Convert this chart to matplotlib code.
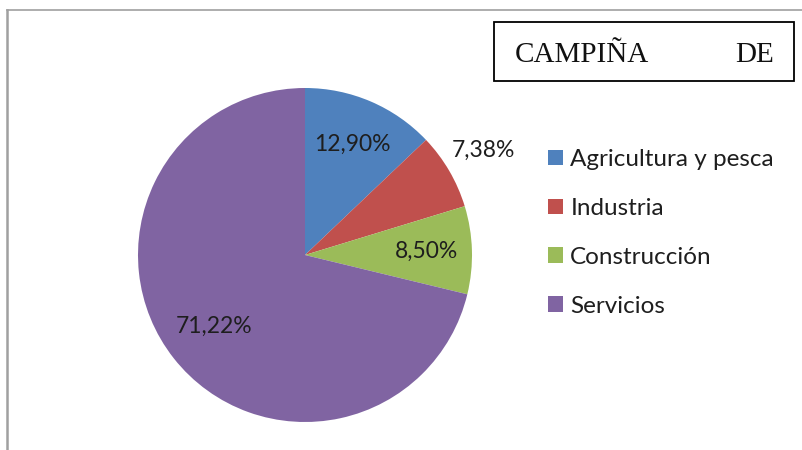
import matplotlib
matplotlib.use("Agg")
import matplotlib.pyplot as plt
import numpy as np
from matplotlib.patches import Rectangle, Patch
from matplotlib.lines import Line2D

# data
sectors = ["Agricultura y pesca", "Industria", "Construcción", "Servicios"]
shares = [12.90, 7.38, 8.50, 71.22]
colors = ["#4F81BD", "#C0504D", "#9BBB59", "#8064A2"]
label_dist = [0.72, 1.24, 0.73, 0.69]
title_words = ["CAMPIÑA", "DE"]

W, H = 802, 450
fig = plt.figure(figsize=(W / 100, H / 100), dpi=100)
fig.patch.set_facecolor("white")


def fx(px):
    return px / W


def fy(py):
    return 1 - py / H


# outer frame (only top and left edges visible)
fig.add_artist(Line2D([fx(7), fx(W)], [fy(10), fy(10)], color="#A0A0A0", lw=1.2))
fig.add_artist(Line2D([fx(7), fx(7)], [fy(10), fy(H)], color="#A0A0A0", lw=1.8))

# title box
fig.add_artist(Rectangle((fx(494), fy(81)), fx(794) - fx(494), fy(22) - fy(81),
                         transform=fig.transFigure, fill=False, ec="black", lw=1.3))
fig.text(fx(515), fy(62), title_words[0], family="Liberation Serif", fontsize=21,
         ha="left", va="baseline", color="#111111")
fig.text(fx(774), fy(62), title_words[1], family="Liberation Serif", fontsize=21,
         ha="right", va="baseline", color="#111111")

# pie
cx, cy, r = 305, 255, 167
ax = fig.add_axes([fx(cx - r), fy(cy + r), 2 * r / W, 2 * r / H])
wedges, _ = ax.pie(shares, colors=colors, startangle=90, counterclock=False,
                   radius=1, wedgeprops=dict(linewidth=0))
ax.set_xlim(-1, 1)
ax.set_ylim(-1, 1)
ax.set_aspect("auto")
ax.axis("off")

for w, v, d in zip(wedges, shares, label_dist):
    mid = np.deg2rad((w.theta1 + w.theta2) / 2)
    ax.text(d * np.cos(mid), d * np.sin(mid), f"{v:.2f}%".replace(".", ","),
            ha="center", va="center", fontsize=16.5, family="Lato", color="#1e1e1e",
            clip_on=False)

# legend
handles = [Patch(facecolor=c, edgecolor="none") for c in colors]
fig.legend(handles, sectors, loc="upper left", bbox_to_anchor=(fx(548), fy(149)),
           frameon=False, prop=dict(family="Lato", size=17.5),
           handlelength=0.62, handleheight=0.62, handletextpad=0.3,
           labelspacing=1.15, borderpad=0, borderaxespad=0, labelcolor="#1e1e1e")

fig.savefig("out.png", dpi=100)
